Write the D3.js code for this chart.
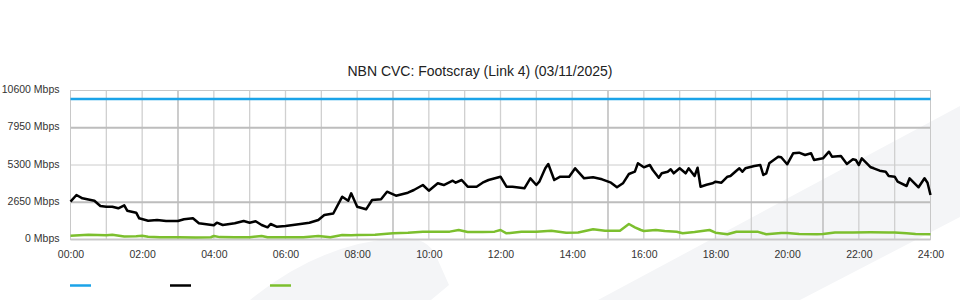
<!DOCTYPE html>
<html>
<head>
<meta charset="utf-8">
<script src="https://cdn.jsdelivr.net/npm/d3@7"></script>
<style>
  body { margin: 0; background: #fff; }
  text { font-family: "Liberation Sans", Arial, sans-serif; }
</style>
</head>
<body>
<div id="svg-container"></div>
<script>
// Set dimensions and margins of the chart
const width = 960;
const height = 300;

const margins = { top: 90.5, right: 29.5, bottom: 60.5, left: 70.5 };

const innerWidth = width - margins.left - margins.right;
const innerHeight = height - margins.top - margins.bottom;

// Data (time in minutes since 00:00, values in Mbps)
const title = "NBN CVC: Footscray (Link 4) (03/11/2025)";

const yTicks = [0, 2650, 5300, 7950, 10600];
const xTicks = [0, 120, 240, 360, 480, 600, 720, 840, 960, 1080, 1200, 1320, 1440];

const capacityTimes = [0, 1440];
const capacityValues = [10000, 10000];

const trafficTimes = [0, 10, 20, 40, 50, 60, 70, 80, 90, 95, 110, 115, 130, 145, 160, 180, 190, 205, 215, 240,
  245, 255, 275, 290, 300, 310, 320, 330, 335, 345, 360, 385, 400, 415, 425, 440, 455, 465, 470, 480,
  495, 505, 520, 530, 545, 565, 575, 590, 600, 615, 625, 640, 645, 655, 665, 680, 690, 700, 720, 730,
  740, 760, 770, 780, 785, 795, 800, 810, 820, 835, 845, 860, 875, 890, 905, 915, 925, 935, 945, 950,
  960, 970, 975, 985, 990, 1000, 1005, 1010, 1020, 1030, 1035, 1045, 1050, 1055, 1065, 1075, 1080, 1090, 1100, 1105,
  1115, 1120, 1125, 1130, 1145, 1155, 1160, 1165, 1170, 1185, 1190, 1200, 1210, 1220, 1230, 1240, 1245, 1260, 1270, 1275,
  1290, 1300, 1310, 1315, 1320, 1325, 1340, 1345, 1355, 1365, 1370, 1380, 1385, 1400, 1405, 1420, 1430, 1435, 1440];
const trafficValues = [2689, 3166, 2931, 2760, 2383, 2333, 2333, 2220, 2433, 2049, 1907, 1508, 1337, 1387, 1316, 1316, 1437, 1508, 1152, 1010,
  1195, 1032, 1152, 1316, 1195, 1295, 1032, 868, 1103, 911, 960, 1103, 1195, 1387, 1743, 1850, 3045, 2760, 3287, 2333,
  2148, 2810, 2860, 3400, 3116, 3329, 3521, 3877, 3472, 3998, 3877, 4183, 4041, 4233, 3756, 3756, 4041, 4233, 4468, 3756,
  3756, 3642, 4354, 3877, 4112, 5065, 5371, 4233, 4468, 4468, 5065, 4354, 4425, 4283, 4041, 3714, 3998, 4660, 4823, 5421,
  5136, 5300, 4944, 4397, 4709, 4823, 4994, 4709, 5065, 4709, 5065, 4517, 5108, 3756, 3898, 3998, 4112, 4041, 4468, 4517,
  4894, 5065, 4823, 5065, 5229, 5300, 4589, 4709, 5421, 5890, 5848, 5350, 6132, 6175, 6011, 6132, 5656, 5777, 6246, 5890,
  5940, 5371, 5705, 5656, 5300, 5777, 5136, 5065, 4894, 4823, 4517, 4468, 4112, 3806, 4354, 3714, 4354, 4041, 3166];

const upTimes = [0, 15, 30, 45, 60, 70, 90, 110, 120, 130, 150, 180, 210, 235, 240, 250, 275, 300, 320, 330,
  360, 390, 415, 435, 455, 470, 480, 510, 540, 565, 590, 610, 635, 650, 665, 690, 710, 720, 730, 755,
  780, 805, 830, 850, 875, 895, 920, 935, 945, 955, 960, 980, 995, 1015, 1025, 1045, 1070, 1080, 1100, 1115,
  1140, 1150, 1165, 1190, 1200, 1220, 1250, 1260, 1280, 1310, 1340, 1370, 1380, 1400, 1415, 1440];
const upValues = [270, 300, 341, 320, 300, 341, 220, 230, 270, 200, 156, 160, 150, 160, 249, 170, 156, 156, 249, 156,
  156, 160, 249, 156, 320, 300, 320, 330, 441, 484, 555, 555, 560, 676, 534, 534, 560, 676, 441, 555,
  560, 626, 484, 500, 726, 626, 626, 1103, 868, 676, 605, 676, 600, 555, 441, 534, 676, 484, 370, 555,
  555, 560, 370, 460, 470, 390, 380, 390, 500, 505, 510, 500, 505, 441, 390, 370];

const seriesNames = ["Capacity", "Download", "Upload"];
const seriesColors = ["#1ba3e8", "#000000", "#7cbf2e"];

const series = [
  { name: seriesNames[0], values: capacityTimes.map((t, i) => ({ t: t, v: capacityValues[i] })) },
  { name: seriesNames[1], values: trafficTimes.map((t, i) => ({ t: t, v: trafficValues[i] })) },
  { name: seriesNames[2], values: upTimes.map((t, i) => ({ t: t, v: upValues[i] })) }
];

// Set color scale. One color per series
const colorScale = d3.scaleOrdinal()
                    .domain(seriesNames)
                    .range(seriesColors);

const xScale = d3.scaleLinear()
                .domain([0, 1440])
                .range([0, innerWidth]);

const yScale = d3.scaleLinear()
                .domain([0, 10600])
                .range([innerHeight, 0]);

const svg = d3.select("#svg-container")
  .append("svg")
    .attr("width", width)
    .attr("height", height);

// Faint background watermark shapes
svg.append("path")
  .attr("d", "M250,300 Q320,243 398,238 Q428,236 437,258 L449,285 L431,300 Z")
  .attr("fill", "#f4f5f7");
svg.append("path")
  .attr("d", "M598,300 L960,106 L960,217 L800,300 Z")
  .attr("fill", "#f4f5f7");

// Title
svg.append("text")
  .attr("x", 480)
  .attr("y", 76)
  .attr("text-anchor", "middle")
  .style("font-size", "14px")
  .style("fill", "#222")
  .text(title);

const mainG = svg.append("g")
                .attr("transform", `translate(${margins.left}, ${margins.top})`);

// Grid lines
mainG.append("g")
  .selectAll("line")
  .data(d3.range(1, 24))
  .enter()
  .append("line")
    .attr("x1", d => xScale(d * 60))
    .attr("x2", d => xScale(d * 60))
    .attr("y1", 0)
    .attr("y2", innerHeight)
    .attr("stroke", d => d % 6 === 3 ? "#c0c0c0" : "#d0d0d0")
    .attr("stroke-width", d => d % 6 === 3 ? 1.6 : 1.3);

mainG.append("g")
  .selectAll("line")
  .data(yTicks)
  .enter()
  .append("line")
    .attr("x1", 0)
    .attr("x2", innerWidth)
    .attr("y1", d => yScale(d))
    .attr("y2", d => yScale(d))
    .attr("stroke", (d, i) => i % 2 === 1 ? "#bdbdbd" : "#cccccc")
    .attr("stroke-width", (d, i) => i % 2 === 1 ? 2 : (i === 0 ? 2 : 1));

mainG.append("rect")
  .attr("width", innerWidth)
  .attr("height", innerHeight)
  .attr("fill", "none")
  .attr("stroke", "#c8c8c8")
  .attr("stroke-width", 1);

// Axes
const yAxis = mainG.append("g")
  .attr("id", "yAxis")
  .call(d3.axisLeft(yScale).tickValues(yTicks).tickSize(0).tickPadding(11).tickFormat(d => d + " Mbps"));

const xAxis = mainG.append("g")
  .attr("id", "xAxis")
  .attr("transform", `translate(0, ${innerHeight})`)
  .call(d3.axisBottom(xScale).tickValues(xTicks).tickSize(0).tickPadding(11)
    .tickFormat(d => String(Math.floor(d / 60)).padStart(2, "0") + ":00"));

[yAxis, xAxis].forEach(a => {
  a.select(".domain").remove();
  a.selectAll("text")
    .style("font-family", "'Liberation Sans', Arial, sans-serif")
    .style("font-size", "10.5px")
    .style("fill", "#333");
});
yAxis.selectAll("text").attr("dy", "0.2em");

// Add lines
const line = d3.line()
  .x(d => xScale(d.t))
  .y(d => yScale(d.v));

mainG.selectAll("seriesLines")
  .data(series)
  .enter()
  .append("path")
    .attr("d", d => line(d.values))
    .attr("stroke", d => colorScale(d.name))
    .style("stroke-width", 2.5)
    .style("stroke-linejoin", "round")
    .style("fill", "none");

// Legend (line samples only)
svg.append("g")
  .selectAll("line")
  .data(seriesNames)
  .enter()
  .append("line")
    .attr("x1", (d, i) => 70 + i * 100)
    .attr("x2", (d, i) => 91 + i * 100)
    .attr("y1", 285.5)
    .attr("y2", 285.5)
    .attr("stroke", d => colorScale(d))
    .attr("stroke-width", 2.5);
</script>
</body>
</html>
